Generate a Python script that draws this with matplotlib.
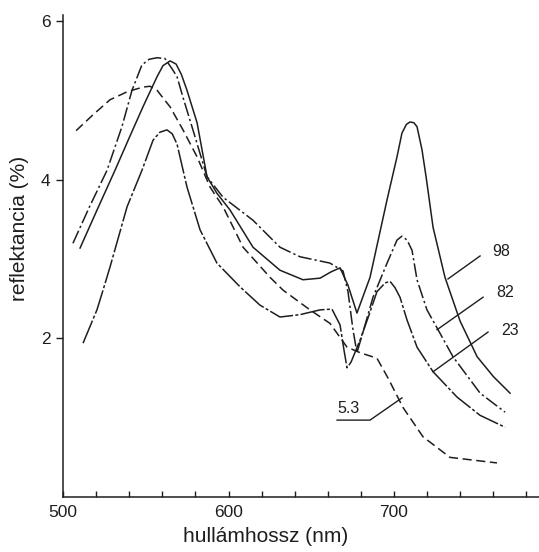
import matplotlib
matplotlib.use("Agg")
import matplotlib.pyplot as plt

# wavelength (nm) / reflectance (%)
wl_98 = [510.3, 521.0, 531.4, 540.0, 548.3, 556.8, 560.4, 564.7, 568.3, 571.5, 574.9, 581.0, 587.0,
         593.0, 600.9, 614.8, 631.1, 645.0, 655.3, 662.0, 667.4, 672.2, 677.6, 685.5, 695.8, 701.8,
         704.8, 707.5, 709.7, 712.0, 713.9, 716.9, 719.5, 723.6, 730.8, 739.9, 750.2, 760.0, 770.1]
r_98 = [3.14, 3.64, 4.12, 4.53, 4.92, 5.30, 5.44, 5.50, 5.46, 5.33, 5.13, 4.72, 4.04,
        3.83, 3.62, 3.15, 2.86, 2.74, 2.76, 2.84, 2.89, 2.67, 2.32, 2.77, 3.75, 4.29,
        4.59, 4.70, 4.73, 4.72, 4.67, 4.38, 4.02, 3.40, 2.77, 2.22, 1.77, 1.52, 1.31]

wl_82 = [506.0, 516.0, 526.6, 535.6, 541.7, 547.7, 552.0, 556.8, 561.6, 565.9, 568.9, 572.5, 578.5,
         587.0, 596.7, 614.8, 631.1, 643.2, 661.3, 669.2, 672.2, 675.2, 677.6, 682.5, 687.3, 695.8,
         701.8, 704.8, 707.9, 710.9, 713.9, 719.9, 726.6, 735.6, 752.0, 767.1]
r_82 = [3.20, 3.66, 4.12, 4.67, 5.13, 5.45, 5.52, 5.54, 5.53, 5.40, 5.30, 5.04, 4.63,
        4.04, 3.78, 3.49, 3.15, 3.03, 2.95, 2.85, 2.59, 2.11, 1.82, 2.17, 2.52, 2.95,
        3.24, 3.29, 3.24, 3.11, 2.74, 2.36, 2.11, 1.77, 1.31, 1.07]

wl_23 = [512.1, 520.5, 524.2, 528.4, 538.7, 547.7, 554.4, 558.5, 562.8, 566.0, 568.9, 574.9, 582.8,
         593.0, 607.0, 619.0, 631.1, 643.2, 655.3, 662.5, 667.4, 669.8, 671.6, 674.0, 679.5, 684.3,
         689.7, 694.6, 697.6, 700.6, 703.6, 707.9, 713.9, 723.6, 738.1, 752.0, 767.1]
r_23 = [1.94, 2.36, 2.61, 2.90, 3.66, 4.12, 4.50, 4.60, 4.63, 4.58, 4.45, 3.91, 3.37,
        2.95, 2.65, 2.42, 2.27, 2.30, 2.36, 2.37, 2.17, 1.85, 1.63, 1.70, 1.98, 2.26,
        2.59, 2.70, 2.72, 2.64, 2.52, 2.23, 1.89, 1.58, 1.26, 1.03, 0.88]

wl_53 = [507.9, 518.1, 528.4, 538.7, 548.3, 552.6, 556.8, 564.7, 572.5, 581.0, 588.8, 596.7, 608.8,
         625.1, 632.9, 649.2, 661.3, 671.6, 679.5, 689.7, 696.4, 705.4, 717.5, 733.8, 762.2]
r_53 = [4.62, 4.82, 5.01, 5.11, 5.17, 5.18, 5.13, 4.92, 4.63, 4.29, 3.91, 3.66, 3.15,
        2.77, 2.61, 2.36, 2.19, 1.89, 1.82, 1.75, 1.50, 1.13, 0.76, 0.50, 0.43]

labels = ["98", "82", "23", "5.3"]
xticks = [500, 520, 540, 560, 580, 600, 620, 640, 660, 680, 700, 720, 740, 760, 780]
xticklabels = ["500", "", "", "", "", "600", "", "", "", "", "700", "", "", "", ""]
yticks = [2, 4, 6]

ink = "#1e1e1e"
plt.rcParams['font.family'] = ['Liberation Sans', 'DejaVu Sans']

fig = plt.figure(figsize=(5.39, 5.52), dpi=100)
ax = fig.add_axes([0.1169, 0.0996, 0.8831, 0.8734])

ax.plot(wl_98, r_98, color=ink, lw=1.1, ls='-', solid_joinstyle='round')
ax.plot(wl_82, r_82, color=ink, lw=1.1, ls=(0, (9, 2, 1.5, 2)))
ax.plot(wl_23, r_23, color=ink, lw=1.1, ls=(0, (16, 1.5, 2, 1.5)))
ax.plot(wl_53, r_53, color=ink, lw=1.1, ls=(0, (6, 3)))

# curve labels with leader lines
lab_fs = 11.5
ax.plot([752.0, 732.6], [3.04, 2.75], color=ink, lw=1.0)
ax.text(759.5, 3.09, labels[0], fontsize=lab_fs, color=ink, va='center', ha='left')
ax.plot([753.8, 726.0], [2.52, 2.11], color=ink, lw=1.0)
ax.text(762.0, 2.58, labels[1], fontsize=lab_fs, color=ink, va='center', ha='left')
ax.plot([756.8, 723.6], [2.08, 1.58], color=ink, lw=1.0)
ax.text(765.0, 2.10, labels[2], fontsize=lab_fs, color=ink, va='center', ha='left')
ax.plot([665.6, 685.5, 704.8], [0.97, 0.97, 1.25], color=ink, lw=1.0)
ax.text(665.6, 1.12, labels[3], fontsize=lab_fs, color=ink, va='center', ha='left')

ax.set_xlim(500, 787.6)
ax.set_ylim(0, 6.08)
ax.set_xticks(xticks)
ax.set_xticklabels(xticklabels)
ax.set_yticks(yticks)
ax.set_yticklabels([str(v) for v in yticks])
ax.tick_params(axis='x', direction='in', length=4, width=1, colors=ink, labelsize=12.5, pad=6)
ax.tick_params(axis='y', direction='out', length=5, width=1, colors=ink, labelsize=12.5, pad=4)
for s in ['top', 'right']:
    ax.spines[s].set_visible(False)
for s in ['left', 'bottom']:
    ax.spines[s].set_color(ink)
    ax.spines[s].set_linewidth(1.1)

fig.text(266 / 539, 1 - 537 / 552, "hullámhossz (nm)", fontsize=15, color=ink, ha='center', va='center')
fig.text(20 / 539, 1 - 228 / 552, "reflektancia (%)", fontsize=15, color=ink, ha='center', va='center',
         rotation=90)

fig.savefig("out.png", dpi=100)
